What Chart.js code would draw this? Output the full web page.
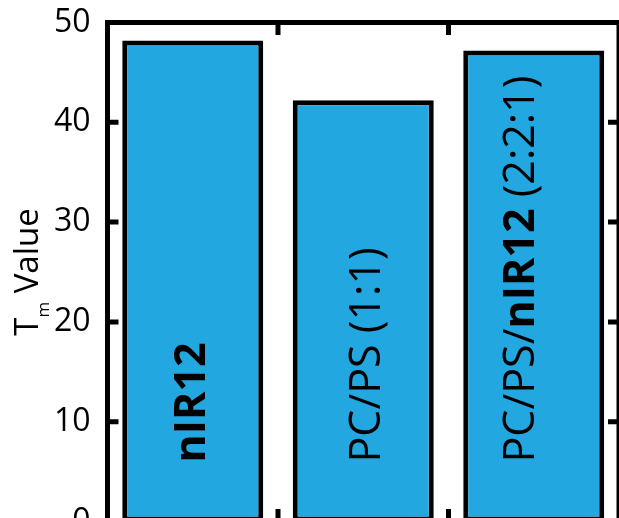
<!DOCTYPE html>
<html>
<head>
<meta charset="utf-8">
<script src="https://cdn.jsdelivr.net/npm/chart.js@4/dist/chart.umd.min.js"></script>
<style>
  html, body { margin: 0; padding: 0; background: #fff; overflow: hidden; }
  #wrap { position: relative; width: 619px; height: 560px; }
</style>
</head>
<body>
<div id="wrap"><canvas id="c" width="619" height="560"></canvas></div>
<script>
// Melting temperature per sample
const categories = ['nIR12', 'PC/PS (1:1)', 'PC/PS/nIR12 (2:2:1)'];
const tmValues = [48.2, 42.2, 47.2];
const yTickValues = [0, 10, 20, 30, 40, 50];
// term printed in bold wherever it appears in a bar label
const boldTerm = 'nIR12';
// axis title pieces: main letter, subscript, remainder
const yTitleParts = ['T', 'm', ' Value'];

const FONT = '"Open Sans", "DejaVu Sans", sans-serif';
const BAR_FILL = '#22A7E1';

function segmentsOf(label) {
  const parts = label.split(boldTerm);
  const out = [];
  parts.forEach((p, i) => {
    if (p) out.push({ text: p, bold: false });
    if (i < parts.length - 1) out.push({ text: boldTerm, bold: true });
  });
  return out;
}

// box frame with inward ticks on all four sides
const framePlugin = {
  id: 'frame',
  afterDatasetsDraw(chart, args, opts) {
    const { ctx, chartArea: a } = chart;
    const x = chart.scales.x, y = chart.scales.y;
    ctx.save();
    ctx.strokeStyle = '#000';
    ctx.lineWidth = opts.width;
    ctx.lineCap = 'butt';
    ctx.strokeRect(a.left, a.top, a.right - a.left, a.bottom - a.top);
    ctx.beginPath();
    y.ticks.forEach((t, i) => {
      const py = y.getPixelForTick(i);
      ctx.moveTo(a.left, py); ctx.lineTo(a.left + opts.yTick, py);
      ctx.moveTo(a.right, py); ctx.lineTo(a.right - opts.yTick, py);
    });
    for (let i = 1; i < x.ticks.length; i++) {
      const px = (x.getPixelForTick(i - 1) + x.getPixelForTick(i)) / 2;
      ctx.moveTo(px, a.top); ctx.lineTo(px, a.top + opts.xTick);
      ctx.moveTo(px, a.bottom); ctx.lineTo(px, a.bottom - opts.xTick);
    }
    ctx.stroke();
    ctx.restore();
  }
};

// rotated sample names inside each bar
const barLabelPlugin = {
  id: 'barLabels',
  afterDatasetsDraw(chart, args, opts) {
    const { ctx, chartArea: a } = chart;
    const meta = chart.getDatasetMeta(0);
    ctx.save();
    ctx.fillStyle = '#000';
    ctx.textBaseline = 'alphabetic';
    ctx.textAlign = 'left';
    meta.data.forEach((bar, i) => {
      const segs = segmentsOf(categories[i]);
      const cap = opts.size * 0.714;
      ctx.save();
      ctx.translate(bar.x + cap / 2 + (opts.nudge[i] || 0), a.bottom - opts.lift);
      ctx.rotate(-Math.PI / 2);
      let cx = 0;
      segs.forEach(s => {
        ctx.font = (s.bold ? '700 ' : '400 ') + opts.size + 'px ' + FONT;
        ctx.fillText(s.text, cx, 0);
        cx += ctx.measureText(s.text).width;
      });
      ctx.restore();
    });
    ctx.restore();
  }
};

// vertical axis title with subscript
const yTitlePlugin = {
  id: 'yTitle',
  afterDraw(chart, args, opts) {
    const { ctx, chartArea: a } = chart;
    const [main, sub, rest] = yTitleParts;
    const mainFont = '400 ' + opts.size + 'px ' + FONT;
    const subFont = '400 ' + opts.subSize + 'px ' + FONT;
    ctx.save();
    ctx.font = mainFont; const w1 = ctx.measureText(main).width; const w3 = ctx.measureText(rest).width;
    ctx.font = subFont; const w2 = ctx.measureText(sub).width;
    const total = w1 + w2 + w3;
    ctx.translate(opts.x, (a.top + a.bottom) / 2);
    ctx.rotate(-Math.PI / 2);
    ctx.fillStyle = '#000';
    ctx.textBaseline = 'alphabetic';
    ctx.textAlign = 'left';
    let cx = -total / 2;
    ctx.font = mainFont; ctx.fillText(main, cx, 0); cx += w1;
    ctx.font = subFont; ctx.fillText(sub, cx, opts.subDrop); cx += w2;
    ctx.font = mainFont; ctx.fillText(rest, cx, 0);
    ctx.restore();
  }
};

new Chart(document.getElementById('c'), {
  type: 'bar',
  data: {
    labels: categories,
    datasets: [{
      data: tmValues,
      backgroundColor: BAR_FILL,
      borderColor: '#000',
      borderWidth: 5,
      borderSkipped: false,
      barPercentage: 0.827,
      categoryPercentage: 1
    }]
  },
  options: {
    responsive: false,
    devicePixelRatio: 1,
    animation: false,
    layout: { padding: { left: 0, right: 0, top: 22.5, bottom: 38.5 } },
    plugins: {
      legend: { display: false },
      tooltip: { enabled: false },
      frame: { width: 5, yTick: 11, xTick: 12.5 },
      barLabels: { size: 43, lift: 59, nudge: [-3, 1.5, -15.5] },
      yTitle: { x: 38, size: 33, subSize: 17, subDrop: 11 }
    },
    scales: {
      x: { display: false, offset: true },
      y: {
        min: 0, max: 50,
        afterBuildTicks(scale) { scale.ticks = yTickValues.map(v => ({ value: v })); },
        afterFit(scale) { scale.width = 107.5; scale.paddingTop = 0; scale.paddingBottom = 0; },
        grid: { display: false, drawTicks: false },
        border: { display: false },
        ticks: { color: '#000', padding: 17, font: { family: FONT, size: 32 } }
      }
    }
  },
  plugins: [framePlugin, barLabelPlugin, yTitlePlugin]
});
</script>
</body>
</html>
